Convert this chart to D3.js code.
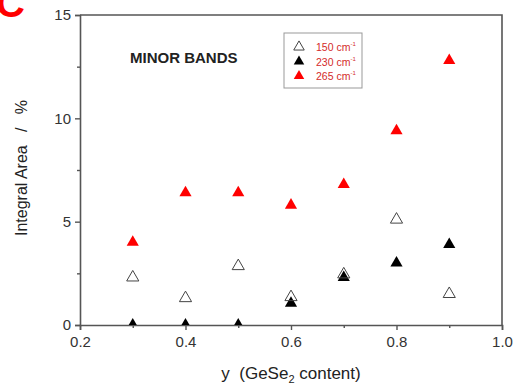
<!DOCTYPE html>
<html>
<head>
<meta charset="utf-8">
<script src="https://cdn.jsdelivr.net/npm/d3@7"></script>
<style>
  html, body { margin: 0; padding: 0; background: #fff; }
  svg { display: block; font-family: Arial, "Liberation Sans", sans-serif; }
</style>
</head>
<body>
<svg id="chart" width="518" height="390"></svg>
<script>
// GeSe2 content (x) and integral areas (%) of the minor Raman bands
const composition = [0.3, 0.4, 0.5, 0.6, 0.7, 0.8, 0.9];
const band150 = [2.3, 1.3, 2.85, 1.35, 2.45, 5.1, 1.5];
const band230 = [0.0, 0.0, 0.0, 1.05, 2.3, 3.0, 3.9];
const band265 = [4.0, 6.4, 6.4, 5.8, 6.8, 9.4, 12.8];
const xTicks = [0.2, 0.4, 0.6, 0.8, 1.0];
const yTicks = [0, 5, 10, 15];
const legendLabels = ["150 cm", "230 cm", "265 cm"];

const svg = d3.select("#chart");
const plotL = 80, plotR = 502, plotT = 15, plotB = 325;
const axisColor = "#555";

const x = d3.scaleLinear().domain([0.2, 1.0]).range([plotL, plotR]);
const y = d3.scaleLinear().domain([0, 15]).range([plotB, plotT]);

// panel letter
svg.append("text").attr("x", -4).attr("y", 17)
  .attr("font-size", 40).attr("font-weight", "bold").attr("fill", "#f00")
  .text("C");

// frame (top and right sides)
svg.append("path")
  .attr("d", `M${plotL},${plotT}H${plotR}V${plotB}`)
  .attr("fill", "none").attr("stroke", axisColor).attr("stroke-width", 1.6);

// bottom axis
svg.append("g").attr("transform", `translate(0,${plotB})`)
  .call(d3.axisBottom(x).tickValues(xTicks).tickFormat(d3.format(".1f")).tickSize(5).tickPadding(6));
// left axis
svg.append("g").attr("transform", `translate(${plotL},0)`)
  .call(d3.axisLeft(y).tickValues(yTicks).tickSize(5).tickPadding(4));
// minor ticks
svg.append("g").attr("transform", `translate(0,${plotB})`)
  .call(d3.axisBottom(x).tickValues([0.3, 0.5, 0.7, 0.9]).tickSize(3).tickFormat(""))
  .select(".domain").remove();
svg.append("g").attr("transform", `translate(${plotL},0)`)
  .call(d3.axisLeft(y).tickValues([2.5, 7.5, 12.5]).tickSize(3).tickFormat(""))
  .select(".domain").remove();

svg.selectAll(".domain").attr("stroke", axisColor).attr("stroke-width", 1.6);
svg.selectAll(".tick line").attr("stroke", axisColor).attr("stroke-width", 1.4);
svg.selectAll(".tick text").attr("fill", "#333").attr("font-size", 15)
  .attr("font-family", "Arial, 'Liberation Sans', sans-serif");

// axis titles
svg.append("text").attr("x", 291).attr("y", 379).attr("text-anchor", "middle")
  .attr("font-size", 17).attr("fill", "#222")
  .attr("xml:space", "preserve")
  .call(t => {
    t.append("tspan").text("y  (GeSe");
    t.append("tspan").attr("font-size", 11).attr("dy", 4).text("2");
    t.append("tspan").attr("dy", -4).text(" content)");
  });
svg.append("text")
  .attr("transform", "translate(27,168) rotate(-90)")
  .attr("text-anchor", "middle").attr("font-size", 16).attr("fill", "#222")
  .attr("xml:space", "preserve")
  .text("Integral Area   /   %");

svg.append("text").attr("x", 130).attr("y", 63)
  .attr("font-size", 15).attr("font-weight", "bold").attr("fill", "#222")
  .text("MINOR BANDS");

// markers
svg.append("clipPath").attr("id", "plot-clip")
  .append("rect").attr("x", plotL).attr("y", plotT).attr("width", plotR - plotL).attr("height", plotB - plotT);

const tri = d3.symbol().type(d3.symbolTriangle).size(64);
const plot = svg.append("g").attr("clip-path", "url(#plot-clip)");

const series = [
  { values: band230, fill: "#000", stroke: "none" },
  { values: band150, fill: "none", stroke: "#444" },
  { values: band265, fill: "#f00", stroke: "none" }
];
series.forEach(s => {
  plot.selectAll(null).data(composition.map((c, i) => [c, s.values[i]]))
    .join("path")
    .attr("d", tri)
    .attr("transform", d => `translate(${x(d[0])},${y(d[1])})`)
    .attr("fill", s.fill).attr("stroke", s.stroke).attr("stroke-width", 1);
});

// legend
const lg = svg.append("g");
lg.append("rect").attr("x", 284).attr("y", 33).attr("width", 78).attr("height", 55)
  .attr("fill", "#fff").attr("stroke", "#999").attr("stroke-width", 1);
const legendStyles = [series[1], series[0], series[2]];
legendLabels.forEach((lab, i) => {
  const yy = 47 + i * 14.5;
  lg.append("path").attr("d", d3.symbol().type(d3.symbolTriangle).size(48))
    .attr("transform", `translate(299,${yy})`)
    .attr("fill", legendStyles[i].fill).attr("stroke", legendStyles[i].stroke).attr("stroke-width", 1);
  const t = lg.append("text").attr("x", 316).attr("y", yy + 4)
    .attr("font-size", 10.5).attr("fill", "#d42a2a");
  t.append("tspan").text(lab);
  t.append("tspan").attr("font-size", 6).attr("dy", -5).text("-1");
});
</script>
</body>
</html>
